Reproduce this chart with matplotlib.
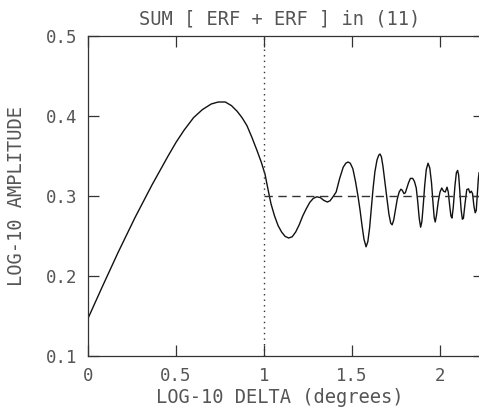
import numpy as np
import matplotlib
matplotlib.use("Agg")
import matplotlib.pyplot as plt


# 曲线数据（从原图逐点读取）
log_delta = [
    0.0, 0.08, 0.17, 0.267, 0.364, 0.455, 0.50, 0.545, 0.60, 0.65, 0.70, 0.74, 0.78,
    0.815, 0.847, 0.875, 0.903, 0.93, 0.96, 0.985, 1.006, 1.023, 1.04, 1.06, 1.08,
    1.10, 1.12, 1.14, 1.16, 1.18, 1.20, 1.22, 1.24, 1.26, 1.28, 1.30, 1.32, 1.34,
    1.36, 1.375, 1.392, 1.41, 1.43, 1.45, 1.465, 1.477, 1.49, 1.505, 1.52, 1.534,
    1.546, 1.557, 1.568, 1.58, 1.59, 1.60, 1.61, 1.62, 1.63, 1.642, 1.652, 1.659,
    1.667, 1.676, 1.687, 1.699, 1.71, 1.72, 1.728, 1.737, 1.747, 1.757, 1.768, 1.778,
    1.786, 1.795, 1.803, 1.812, 1.822, 1.832, 1.845, 1.855, 1.865, 1.873, 1.882, 1.89,
    1.897, 1.905, 1.913, 1.922, 1.932, 1.942, 1.952, 1.96, 1.967, 1.973, 1.98, 1.99,
    2.0, 2.01, 2.02, 2.03, 2.04, 2.047, 2.055, 2.062, 2.068, 2.075, 2.085, 2.093,
    2.1, 2.106, 2.113, 2.12, 2.127, 2.133, 2.142, 2.152, 2.162, 2.17, 2.178, 2.185,
    2.193, 2.2, 2.206, 2.212, 2.218, 2.222,
]
log_amp = [
    0.147, 0.186, 0.229, 0.273, 0.314, 0.350, 0.367, 0.382, 0.398, 0.408, 0.415, 0.4175, 0.4175,
    0.413, 0.406, 0.398, 0.388, 0.374, 0.357, 0.342, 0.327, 0.308, 0.29, 0.275, 0.263,
    0.255, 0.2495, 0.2475, 0.249, 0.255, 0.264, 0.275, 0.284, 0.292, 0.297, 0.299, 0.298, 0.2945,
    0.2925, 0.294, 0.299, 0.305, 0.322, 0.336, 0.341, 0.3425, 0.341, 0.334, 0.318, 0.300,
    0.282, 0.263, 0.246, 0.2365, 0.243, 0.26, 0.285, 0.31, 0.33, 0.345, 0.351, 0.3525,
    0.349, 0.337, 0.317, 0.296, 0.277, 0.266, 0.264, 0.27, 0.283, 0.296, 0.305, 0.3085,
    0.307, 0.303, 0.304, 0.31, 0.317, 0.322, 0.322, 0.318, 0.31, 0.294, 0.272, 0.261,
    0.268, 0.289, 0.313, 0.333, 0.341, 0.335, 0.316, 0.292, 0.273, 0.2675, 0.276, 0.293,
    0.305, 0.31, 0.306, 0.305, 0.311, 0.305, 0.288, 0.275, 0.2725, 0.285, 0.313, 0.329,
    0.332, 0.326, 0.305, 0.283, 0.271, 0.272, 0.29, 0.308, 0.309, 0.304, 0.306, 0.303,
    0.287, 0.279, 0.282, 0.302, 0.322, 0.329,
]

x_ticks = [0, 0.5, 1, 1.5, 2]
x_tick_labels = ["0", "0.5", "1", "1.5", "2"]
y_ticks = [0.1, 0.2, 0.3, 0.4, 0.5]
y_tick_labels = ["0.1", "0.2", "0.3", "0.4", "0.5"]
mark_x = 1.0
mark_y = 0.3

ink = "#333333"
text_ink = "#555555"
plt.rcParams["font.family"] = ["DejaVu Sans Mono"]

fig = plt.figure(figsize=(4.79, 4.12), dpi=100)
ax = fig.add_axes([88 / 479, 56 / 412, 2.25 * 176 / 479, 320 / 412])

ax.plot(log_delta, log_amp, color="#111111", lw=1.0)
ax.axvline(mark_x, color=ink, lw=1.0, ls=(0, (1, 3)))
ax.plot([mark_x, 2.25], [mark_y, mark_y], color=ink, lw=1.0, ls=(0, (6, 4)))

ax.set_xlim(0, 2.25)
ax.set_ylim(0.1, 0.5)
ax.set_xticks(x_ticks)
ax.set_xticklabels(x_tick_labels)
ax.set_yticks(y_ticks)
ax.set_yticklabels(y_tick_labels)
ax.tick_params(direction="in", length=8, width=0.9, color=ink, labelcolor=text_ink,
               labelsize=12.5, top=True, right=True, pad=8)
for s in ax.spines.values():
    s.set_color(ink)
    s.set_linewidth(0.9)

ax.set_title("SUM [ ERF + ERF ] in (11)", fontsize=13.5, color=text_ink, pad=8, x=0.485)
ax.set_xlabel("LOG-10 DELTA (degrees)", fontsize=13.5, color=text_ink)
ax.xaxis.set_label_coords(0.485, -0.1)
ax.set_ylabel("LOG-10 AMPLITUDE", fontsize=13.5, color=text_ink, labelpad=14)

fig.savefig("out.png", dpi=100)
